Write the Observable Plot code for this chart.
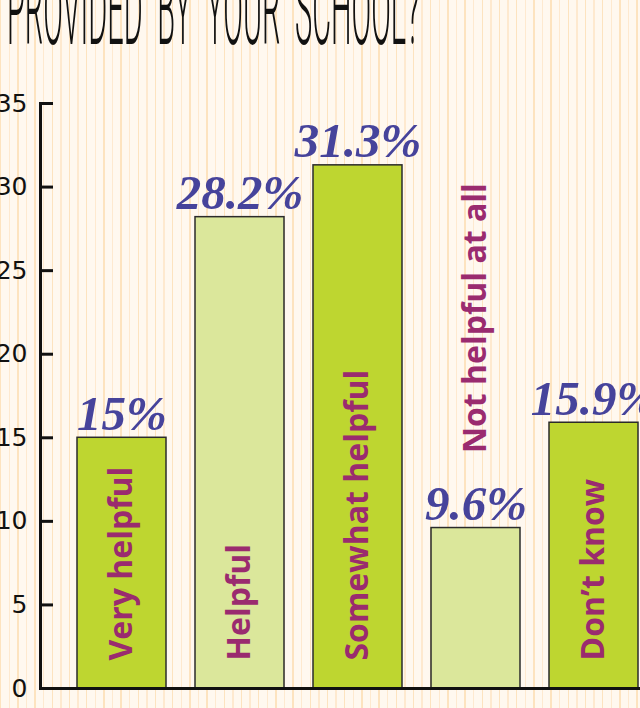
<!DOCTYPE html>
<html>
<head>
<meta charset="utf-8">
<script src="https://cdn.jsdelivr.net/npm/d3@7"></script>
<script src="https://cdn.jsdelivr.net/npm/@observablehq/plot@0.6"></script>
<style>
  html, body { margin: 0; padding: 0; width: 640px; height: 708px; overflow: hidden; }
  body {
    background-color: #fff8ef;
    background-image: repeating-linear-gradient(to right,
      #fde3bf 0px, #fde3bf 1.4px, transparent 1.4px, transparent 8.6px,
      #fee9cf 8.6px, #fee9cf 10px, transparent 10px, transparent 17.2px);
  }
  #title { position: relative; height: 55px; width: 640px; }
  #title span {
    position: absolute; left: 7px; top: -40px; white-space: nowrap;
    font-family: Roboto, sans-serif; font-weight: 300; font-size: 100px; line-height: 100px;
    word-spacing: 26px;
    color: #111; transform-origin: 0 0; transform: scaleX(0.29);
  }
  svg { display: block; overflow: visible; background: transparent !important; }
</style>
</head>
<body>
<div id="title"><span>PROVIDED BY YOUR SCHOOL?</span></div>
<div id="chart"></div>
<script>
const categories = ["Very helpful", "Helpful", "Somewhat helpful", "Not helpful at all", "Don’t know"];
const values = [15, 28.2, 31.3, 9.6, 15.9];
const valueLabels = ["15%", "28.2%", "31.3%", "9.6%", "15.9%"];
const shades = ["dark", "light", "dark", "light", "dark"];
const labelInside = [true, true, true, false, true];
const yTicks = [0, 5, 10, 15, 20, 25, 30, 35];

const data = categories.map((c, i) => ({
  category: c, value: values[i], label: valueLabels[i], shade: shades[i], inside: labelInside[i]
}));

const chart = Plot.plot({
  width: 640,
  height: 653,
  marginLeft: 40,
  marginRight: 0,
  marginTop: 48,
  marginBottom: 20,
  style: { background: "transparent", overflow: "visible" },
  x: { domain: categories, range: [46.4, 668.5], padding: 0.25, axis: null },
  y: { domain: [0, 35], ticks: yTicks },
  color: { domain: ["dark", "light"], range: ["#bed630", "#dbe79b"] },
  marks: [
    Plot.barY(data, { x: "category", y: "value", fill: "shade", stroke: "#2b2b2b", strokeWidth: 1.5 }),
    Plot.axisY({
      ticks: yTicks, tickSize: -13, tickPadding: 26, strokeWidth: 3, label: null,
      fontSize: 25, fontFamily: "'DejaVu Sans', sans-serif", fill: "#111", stroke: "#111"
    }),
    Plot.frame({ anchor: "left", strokeWidth: 3, stroke: "#111" }),
    Plot.ruleY([0], { strokeWidth: 3, stroke: "#111" }),
    Plot.text(data, {
      x: "category", y: "value", text: "label", dy: -8, lineAnchor: "bottom",
      fontFamily: "'Liberation Serif', serif", fontStyle: "italic", fontWeight: "bold",
      fontSize: 49, fill: "#46439b"
    }),
    Plot.text(data.filter(d => d.inside), {
      x: "category", y: () => 0, text: "category", rotate: -90, textAnchor: "start",
      lineAnchor: "middle", dy: -28, fontFamily: "'Open Sans', sans-serif", fontWeight: "bold",
      fontSize: 32, fill: "#9a2b6f"
    }),
    Plot.text(data.filter(d => !d.inside), {
      x: "category", y: "value", text: "category", rotate: -90, textAnchor: "start",
      lineAnchor: "middle", dy: -75, fontFamily: "'Open Sans', sans-serif", fontWeight: "bold",
      fontSize: 32, fill: "#9a2b6f"
    })
  ]
});
document.getElementById("chart").appendChild(chart);
</script>
</body>
</html>
